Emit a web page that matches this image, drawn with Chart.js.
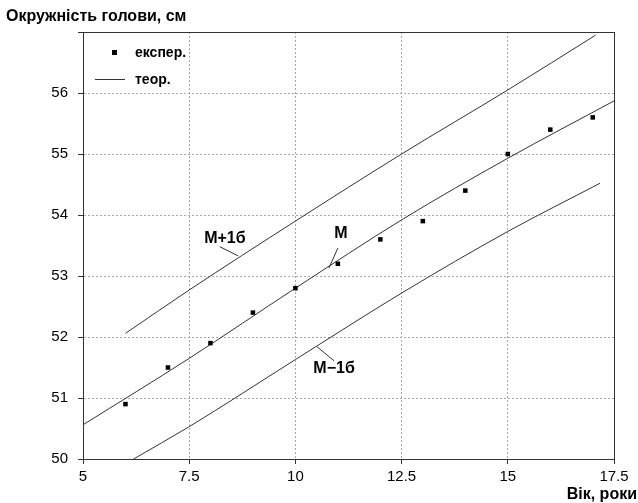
<!DOCTYPE html>
<html>
<head>
<meta charset="utf-8">
<script src="https://cdn.jsdelivr.net/npm/chart.js@4/dist/chart.umd.min.js"></script>
<style>
  body { margin: 0; background: #fff; }
  #wrap { width: 638px; height: 503px; }
</style>
</head>
<body>
<div id="wrap"><canvas id="headChart" width="638" height="503"></canvas></div>
<script>
// experimental points: age (years) -> head circumference (cm)
const ages = [6, 7, 8, 9, 10, 11, 12, 13, 14, 15, 16, 17];
const measured = [50.9, 51.5, 51.9, 52.4, 52.8, 53.2, 53.6, 53.9, 54.4, 55.0, 55.4, 55.6];

// theoretical curves
const meanAges = [5, 7.5, 10, 12.5, 15, 17.5];
const meanValues = [50.56, 51.65, 52.80, 53.92, 54.93, 55.87];
const upperAges = [6, 7.5, 10, 12.5, 15, 17.07];
const upperValues = [52.06, 52.77, 53.90, 55.0, 56.05, 56.95];
const lowerAges = [6.19, 7.5, 10, 12.5, 15, 17.17];
const lowerValues = [50.0, 50.53, 51.63, 52.72, 53.73, 54.52];

// curve labels with their leader lines (data coordinates)
const curveLabels = [
    { text: 'M+1б', x: 8.34, y: 53.61, from: [8.22, 53.48], to: [8.65, 53.33] },
    { text: 'M', x: 11.07, y: 53.69, from: [11.0, 53.46], to: [10.79, 53.13] },
    { text: 'M\u22121б', x: 10.91, y: 51.49, from: [10.51, 51.84], to: [10.91, 51.61] }
];

const yTitle = 'Окружність голови, см';
const xTitle = 'Вік, роки';
const legendItems = ['експер.', 'теор.'];

const lineColor = '#333333';
const gridColor = '#a8a8a8';
const fontFamily = '"Liberation Sans", Arial, sans-serif';

function toPoints(xs, ys) {
    return xs.map((x, i) => ({ x: x, y: ys[i] }));
}

function curve(xs, ys) {
    return {
        data: toPoints(xs, ys),
        showLine: true,
        borderColor: lineColor,
        borderWidth: 1,
        pointRadius: 0,
        cubicInterpolationMode: 'monotone',
        fill: false
    };
}

const decorPlugin = {
    id: 'decor',
    afterDraw(chart) {
        const ctx = chart.ctx;
        const area = chart.chartArea;
        const xs = chart.scales.x;
        const ys = chart.scales.y;
        ctx.save();

        // frame
        ctx.strokeStyle = lineColor;
        ctx.lineWidth = 1;
        ctx.setLineDash([]);
        ctx.strokeRect(area.left + 0.5, area.top + 0.5, area.right - area.left, area.bottom - area.top);

        // titles
        ctx.fillStyle = '#000';
        ctx.font = 'bold 16px ' + fontFamily;
        ctx.textBaseline = 'alphabetic';
        ctx.textAlign = 'left';
        ctx.fillText(yTitle, 6, 21);
        ctx.textAlign = 'right';
        ctx.fillText(xTitle, 637, 499);

        // legend
        ctx.font = 'bold 14px ' + fontFamily;
        ctx.textAlign = 'left';
        ctx.textBaseline = 'middle';
        ctx.fillRect(area.left + 29, area.top + 18, 5, 5);
        ctx.fillText(legendItems[0], area.left + 52, area.top + 21);
        ctx.beginPath();
        ctx.moveTo(area.left + 12, area.top + 47.5);
        ctx.lineTo(area.left + 42, area.top + 47.5);
        ctx.stroke();
        ctx.fillText(legendItems[1], area.left + 52, area.top + 48);

        // curve labels
        ctx.font = 'bold 16px ' + fontFamily;
        ctx.textAlign = 'center';
        curveLabels.forEach(l => {
            ctx.fillText(l.text, xs.getPixelForValue(l.x), ys.getPixelForValue(l.y));
            ctx.beginPath();
            ctx.moveTo(xs.getPixelForValue(l.from[0]), ys.getPixelForValue(l.from[1]));
            ctx.lineTo(xs.getPixelForValue(l.to[0]), ys.getPixelForValue(l.to[1]));
            ctx.stroke();
        });
        ctx.restore();
    }
};

const ctx = document.getElementById('headChart').getContext('2d');
new Chart(ctx, {
    type: 'scatter',
    data: {
        datasets: [
            {
                data: toPoints(ages, measured),
                pointStyle: 'rect',
                pointRadius: 3.2,
                pointBackgroundColor: '#000',
                pointBorderColor: '#000',
                pointBorderWidth: 0,
                showLine: false
            },
            curve(meanAges, meanValues),
            curve(upperAges, upperValues),
            curve(lowerAges, lowerValues)
        ]
    },
    options: {
        responsive: false,
        animation: false,
        events: [],
        layout: { padding: { left: 0, top: 32, right: 24, bottom: 0 } },
        plugins: {
            legend: { display: false },
            tooltip: { enabled: false }
        },
        scales: {
            x: {
                type: 'linear',
                min: 5,
                max: 17.5,
                afterFit: s => { s.height = 44; },
                ticks: {
                    stepSize: 2.5,
                    padding: 4,
                    color: '#000',
                    font: { family: fontFamily, size: 15 },
                    maxRotation: 0
                },
                grid: {
                    color: gridColor,
                    tickColor: lineColor,
                    tickLength: 5,
                    tickBorderDash: []
                },
                border: { color: lineColor, dash: [2, 2] }
            },
            y: {
                type: 'linear',
                min: 50,
                max: 57,
                afterFit: s => { s.width = 83; },
                ticks: {
                    stepSize: 1,
                    padding: 10,
                    color: '#000',
                    font: { family: fontFamily, size: 15 },
                    callback: v => (v >= 57 ? '' : v)
                },
                grid: {
                    color: gridColor,
                    tickColor: lineColor,
                    tickLength: 5,
                    tickBorderDash: []
                },
                border: { color: lineColor, dash: [2, 2] }
            }
        }
    },
    plugins: [decorPlugin]
});
</script>
</body>
</html>
